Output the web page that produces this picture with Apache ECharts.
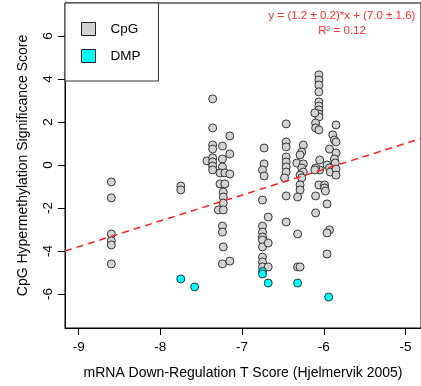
<!DOCTYPE html>
<html>
<head>
<meta charset="utf-8">
<script src="https://cdn.jsdelivr.net/npm/echarts@6/dist/echarts.min.js"></script>
<style>
  html, body { margin: 0; padding: 0; background: #fff; }
  #chart { width: 421px; height: 386px; }
</style>
</head>
<body>
<div id="chart"></div>
<script>
// tick labels
const xTicks = [-9, -8, -7, -6, -5];
const yTicks = [-6, -4, -2, 0, 2, 4, 6];

// CpG points [T score, hypermethylation score]
const cpgPoints = [
  [-8.60, -0.79], [-8.60, -1.53], [-8.60, -3.21], [-8.60, -3.53], [-8.60, -3.72], [-8.60, -4.60],
  [-7.75, -0.98], [-7.75, -1.16],
  [-7.36, 3.07], [-7.36, 1.72], [-7.15, 1.35], [-7.36, 0.93], [-7.36, 0.74], [-7.24, 0.88],
  [-7.15, 0.51], [-7.43, 0.19], [-7.36, 0.33], [-7.36, 0.14], [-7.36, -0.05], [-7.36, -0.23],
  [-7.24, 0.28], [-7.24, -0.09], [-7.27, -0.37], [-7.21, -0.37], [-7.15, -0.42], [-7.27, -0.88],
  [-7.21, -0.88], [-7.23, -1.26], [-7.23, -1.49], [-7.23, -1.77], [-7.29, -2.09], [-7.23, -2.09],
  [-7.24, -2.84], [-7.24, -3.12], [-7.23, -3.81], [-7.24, -4.60], [-7.15, -4.47],
  [-6.73, 0.79], [-6.73, 0.05], [-6.75, -0.23], [-6.73, -0.51], [-6.75, -1.63], [-6.68, -2.42],
  [-6.75, -2.84], [-6.75, -3.12], [-6.75, -3.35], [-6.75, -3.49], [-6.75, -3.81], [-6.68, -3.63],
  [-6.75, -4.28], [-6.75, -4.51], [-6.75, -4.74], [-6.68, -4.74],
  [-6.46, 1.91], [-6.46, 1.07], [-6.46, 0.84], [-6.46, 0.37], [-6.46, 0.14], [-6.46, -0.09],
  [-6.46, -0.33], [-6.48, -0.60], [-6.46, -1.44], [-6.46, -2.65],
  [-6.25, 0.93], [-6.27, 0.60], [-6.29, 0.47], [-6.33, 0.09], [-6.25, 0.05], [-6.27, -0.14],
  [-6.25, -0.33], [-6.29, -0.47], [-6.27, -0.60], [-6.29, -0.93], [-6.29, -1.16], [-6.32, -1.49],
  [-6.32, -3.21], [-6.32, -4.74], [-6.29, -4.74],
  [-6.06, 4.19], [-6.06, 3.95], [-6.06, 3.72], [-6.06, 3.40], [-6.06, 2.93], [-6.06, 2.74],
  [-6.06, 2.56], [-6.06, 2.37], [-6.06, 2.23], [-6.11, 2.42], [-6.10, 1.95], [-6.10, 1.72],
  [-6.06, 1.63], [-6.05, 0.23], [-6.05, -0.23], [-6.10, -0.14], [-6.11, -0.23], [-6.06, -0.93],
  [-6.10, -1.44], [-6.10, -2.23],
  [-5.85, 1.86], [-5.89, 1.40], [-5.87, 1.16], [-5.85, 1.07], [-5.93, 0.74], [-5.85, 0.56],
  [-5.87, 0.28], [-5.86, 0.09], [-5.96, 0.00], [-5.93, -0.14], [-5.92, -0.33], [-5.85, -0.19],
  [-5.85, -0.47], [-5.99, -0.93], [-5.99, -1.07], [-5.98, -1.21], [-5.96, -1.81], [-5.93, -3.02],
  [-5.96, -3.16], [-5.96, -4.14]
];

// DMP points
const dmpPoints = [
  [-7.75, -5.30], [-7.58, -5.67], [-6.75, -4.95], [-6.75, -5.07],
  [-6.68, -5.49], [-6.32, -5.49], [-5.94, -6.14]
];

// fitted line y = slope*x + intercept
const fitSlope = 1.2;
const fitIntercept = 7.0;

const xMin = -9.167, xMax = -4.81;
const yMin = -7.58, yMax = 7.53;

const fitLine = [
  [xMin, fitSlope * xMin + fitIntercept],
  [xMax, fitSlope * xMax + fitIntercept]
];

const chart = echarts.init(document.getElementById('chart'));
chart.setOption({
  animation: false,
  textStyle: { fontFamily: '"Liberation Sans", Arial, sans-serif' },
  grid: {
    left: 65, top: 3, right: -10, bottom: 58,
    show: true, borderColor: '#000', borderWidth: 1
  },
  xAxis: {
    type: 'value', min: xMin, max: xMax,
    splitLine: { show: false },
    axisLine: { show: true, onZero: false, lineStyle: { color: '#000' } },
    axisTick: { show: true, length: 7, customValues: xTicks, lineStyle: { color: '#000' } },
    axisLabel: { customValues: xTicks, margin: 12, fontSize: 13.5, color: '#000' },
    name: 'mRNA Down-Regulation T Score (Hjelmervik 2005)',
    nameLocation: 'middle', nameGap: 38,
    nameTextStyle: { fontSize: 14, color: '#000' }
  },
  yAxis: {
    type: 'value', min: yMin, max: yMax,
    splitLine: { show: false },
    axisLine: { show: true, onZero: false, lineStyle: { color: '#000' } },
    axisTick: { show: true, length: 7, customValues: yTicks, lineStyle: { color: '#000' } },
    axisLabel: { customValues: yTicks, rotate: 90, margin: 10, fontSize: 13.5, color: '#000' },
    name: 'CpG Hypermethylation Significance Score',
    nameLocation: 'middle', nameGap: 35,
    nameTextStyle: { fontSize: 14, color: '#000' }
  },
  legend: {
    data: ['CpG', 'DMP'],
    orient: 'vertical', left: 65, top: 3,
    padding: [19, 18, 18, 16],
    itemGap: 13, itemWidth: 14, itemHeight: 13,
    icon: 'rect',
    backgroundColor: '#fff',
    borderColor: '#333', borderWidth: 1, borderRadius: 0,
    itemStyle: { borderColor: '#222', borderWidth: 1 },
    textStyle: { fontSize: 13.5, color: '#000', padding: [0, 0, 0, 10] }
  },
  graphic: [
    {
      type: 'text', x: 342, y: 16,
      style: {
        text: 'y = (1.2 ± 0.2)*x + (7.0 ± 1.6)', fill: '#ff2a2a',
        font: '11.5px "Liberation Sans", Arial, sans-serif',
        align: 'center', verticalAlign: 'middle'
      }
    },
    {
      type: 'text', x: 342, y: 31,
      style: {
        text: 'R² = 0.12', fill: '#ff2a2a',
        font: '11.5px "Liberation Sans", Arial, sans-serif',
        align: 'center', verticalAlign: 'middle'
      }
    }
  ],
  series: [
    {
      name: 'CpG', type: 'scatter', data: cpgPoints,
      symbol: 'circle', symbolSize: 8,
      itemStyle: { color: '#d3d3d3', borderColor: '#222', borderWidth: 0.9, opacity: 1 },
      z: 2
    },
    {
      name: 'DMP', type: 'scatter', data: dmpPoints,
      symbol: 'circle', symbolSize: 8,
      itemStyle: { color: '#00ffff', borderColor: '#222', borderWidth: 0.9, opacity: 1 },
      z: 3
    },
    {
      name: 'fit', type: 'line', data: fitLine,
      symbol: 'none', silent: true,
      lineStyle: { color: '#ff2020', width: 1.5, type: [7, 5] },
      z: 4
    }
  ]
});
</script>
</body>
</html>
